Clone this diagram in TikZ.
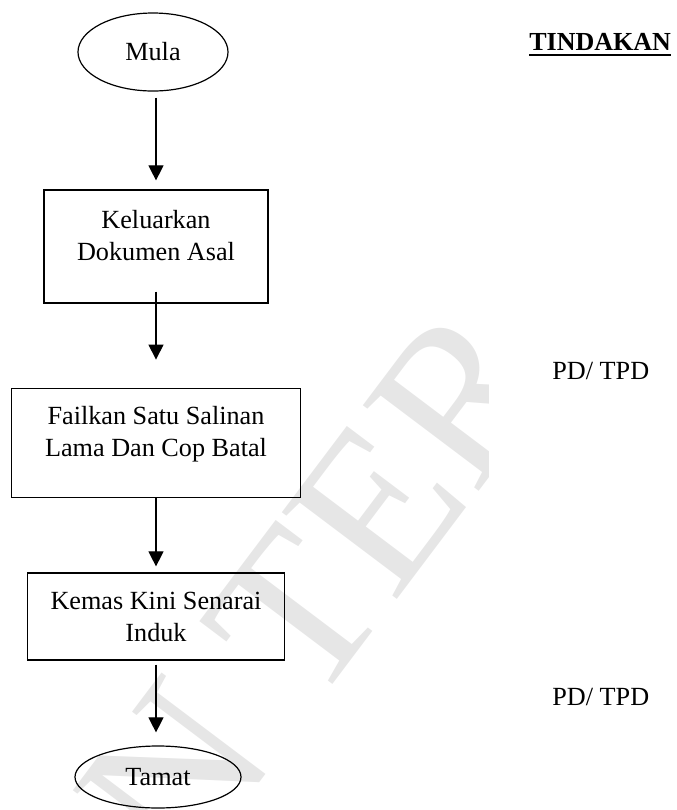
\documentclass[tikz,border=0pt]{standalone}
\usepackage{fontspec}
\setmainfont{Liberation Serif}
\usetikzlibrary{shapes.geometric,arrows.meta}
\definecolor{tera}{RGB}{230,230,230}
\newcommand{\isi}[2]{\raisebox{#1}[0pt][0pt]{\begin{tabular}{@{}c@{}}#2\end{tabular}}}
\tikzset{
  kotak/.style={draw, rectangle, line width=0.6pt, inner sep=0pt},
  bujur/.style={draw, ellipse, line width=0.6pt, inner sep=1pt},
  anak/.style={-{Triangle[length=7.5pt,width=7.5pt]}, line width=0.55pt},
  tulis/.style={anchor=base west, inner sep=0pt}
}
\begin{document}
\begin{tikzpicture}[x=0.5pt,y=0.5pt,font=\fontsize{13.1}{16}\selectfont]
\useasboundingbox (0,0) rectangle (676,-810);

% tera air
\begin{scope}
\clip (0,-250) rectangle (488,-810);
\node[rotate=53,anchor=base west,inner sep=0pt,text=tera,font=\fontsize{110}{110}\selectfont] (tera) at (184,-883) {N TER};
\end{scope}

\node[bujur, minimum width=75pt, minimum height=39pt] (mula) at (153,-52) {Mula};
\node[kotak, minimum width=112pt, minimum height=56.5pt] (keluar) at (156,-246.5) {\isi{1.1pt}{Keluarkan\\Dokumen Asal}};
\node[kotak, minimum width=144.25pt, minimum height=54.2pt] (failkan) at (156,-443) {\isi{1.35pt}{Failkan Satu Salinan\\Lama Dan Cop Batal}};
\node[kotak, minimum width=128.25pt, minimum height=43.5pt] (kemas) at (156,-616.5) {\isi{-4.4pt}{Kemas Kini Senarai\\Induk}};
\node[bujur, minimum width=83pt, minimum height=31pt] (tamat) at (158,-777) {Tamat};

\draw[anak, shorten <=3pt, shorten >=4.5pt] (mula.south -| keluar) -- (keluar.north);
\draw[anak, shorten <=-6pt, shorten >=14.3pt] (keluar) -- (failkan);
\draw[anak, shorten >=3pt] (failkan) -- (kemas);
\draw[anak, shorten <=2pt, shorten >=6.5pt] (kemas.south) -- (tamat.north -| kemas);

\node[tulis, font=\fontsize{13}{16}\selectfont\bfseries] (tindakan) at (529,-50) {TINDAKAN};
\draw[line width=1pt] ([yshift=-2.5pt]tindakan.base west) -- ([yshift=-2.5pt]tindakan.base east);
\node[tulis] (pd1) at (552,-379) {PD/ TPD};
\node[tulis] (pd2) at (552,-705) {PD/ TPD};
\end{tikzpicture}
\end{document}
